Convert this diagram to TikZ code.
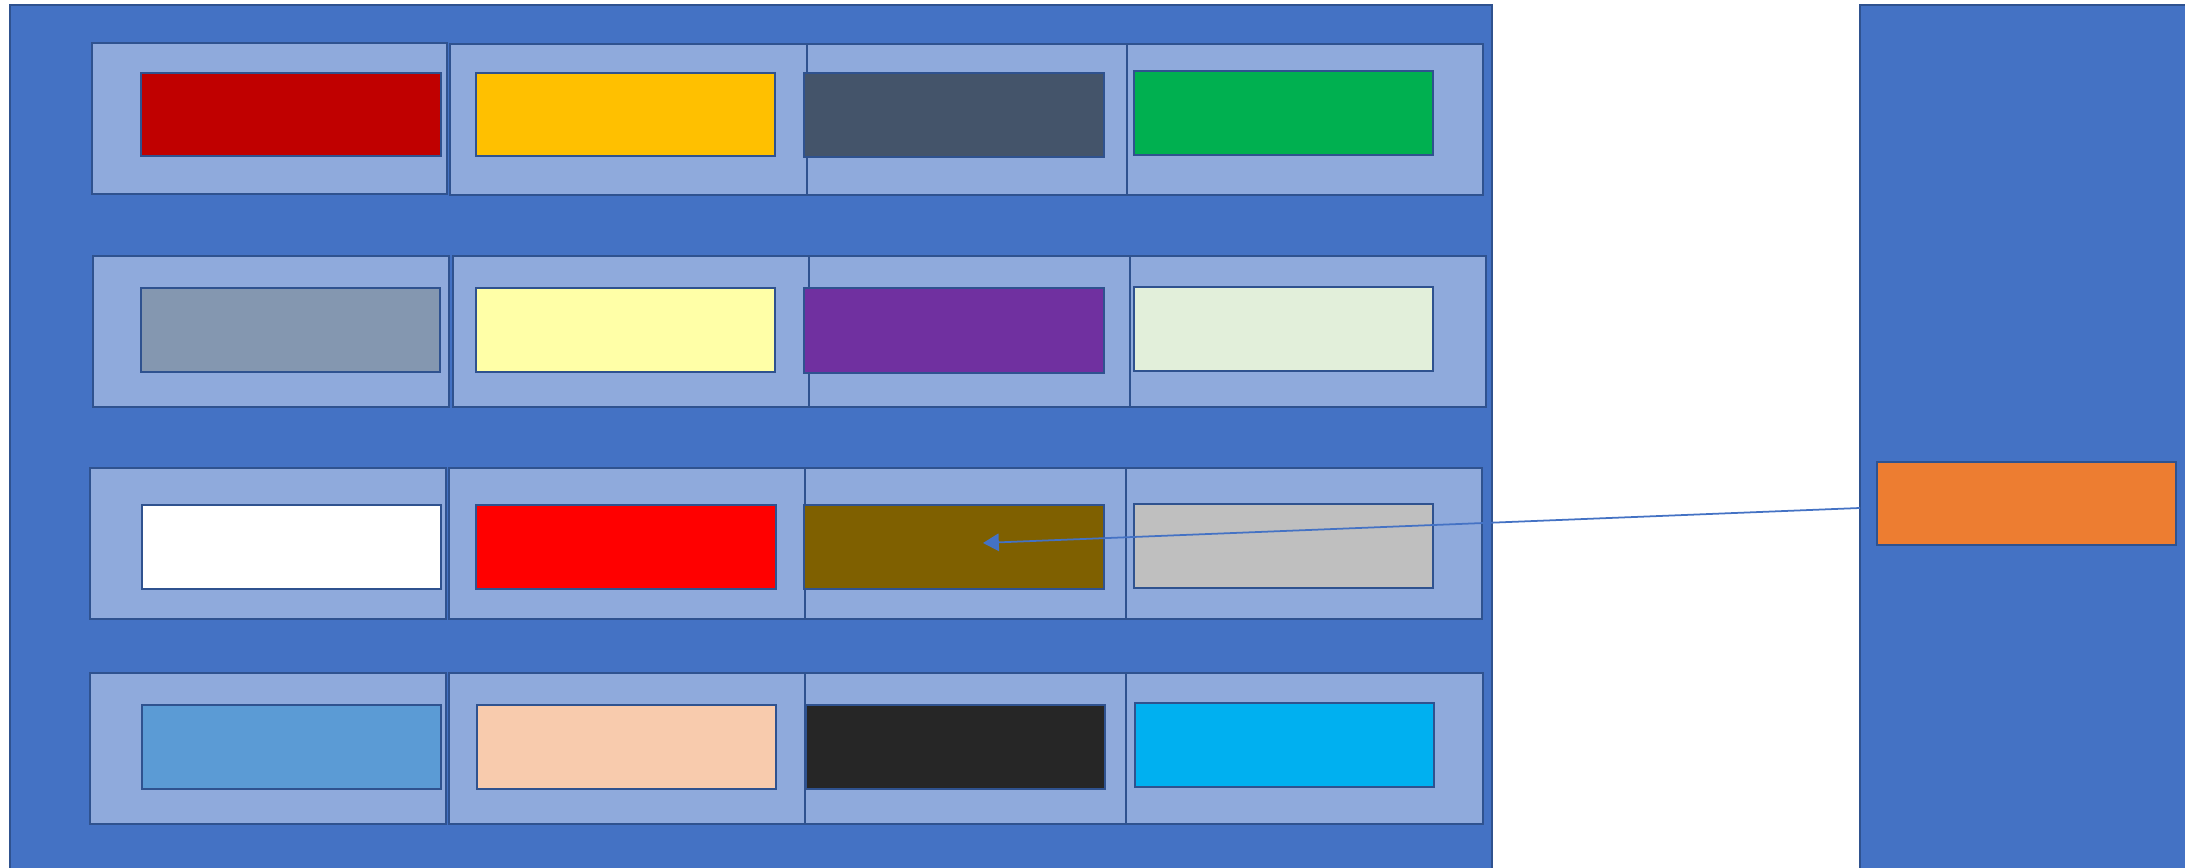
\documentclass[tikz,border=0pt]{standalone}
\usetikzlibrary{fit,arrows.meta}
\definecolor{bigblue}{HTML}{4472C4}
\definecolor{panelc}{HTML}{8FAADC}
\definecolor{edgec}{HTML}{2F528F}
\definecolor{cA}{HTML}{C00000}
\definecolor{cB}{HTML}{FFC000}
\definecolor{cC}{HTML}{44546A}
\definecolor{cD}{HTML}{00B050}
\definecolor{cE}{HTML}{8497B0}
\definecolor{cF}{HTML}{FFFFA7}
\definecolor{cG}{HTML}{7030A0}
\definecolor{cH}{HTML}{E2EFDA}
\definecolor{cI}{HTML}{FFFFFF}
\definecolor{cJ}{HTML}{FF0000}
\definecolor{cK}{HTML}{7F6000}
\definecolor{cL}{HTML}{BFBFBF}
\definecolor{cM}{HTML}{5B9BD5}
\definecolor{cN}{HTML}{F8CBAD}
\definecolor{cO}{HTML}{262626}
\definecolor{cP}{HTML}{00B0F0}
\definecolor{cQ}{HTML}{ED7D31}
\begin{document}
\begin{tikzpicture}[x=0.01cm,y=-0.01cm,
  box/.style={draw=edgec,line width=0.75pt,inner sep=0pt,outer sep=0pt,rectangle},
  bigbox/.style={box,fill=bigblue},
  panel/.style={box,fill=panelc},
  swatch/.style={box}]
\useasboundingbox (0,0) rectangle (2185,868);
\clip (0,0) rectangle (2185,868);
\fill[white] (0,0) rectangle (2185,868);
% big containers
\node[bigbox,fit={(10,5)(1492,880)}] (left) {};
\node[bigbox,fit={(1860,5)(2200,880)}] (right) {};
% panels row 1
\node[panel,fit={(92,43)(447,194)}] (p11) {};
\node[panel,fit={(450,44)(807,195)}] (p12) {};
\node[panel,fit={(807,44)(1127,195)}] (p13) {};
\node[panel,fit={(1127,44)(1483,195)}] (p14) {};
% row 2
\node[panel,fit={(93,256)(449,407)}] (p21) {};
\node[panel,fit={(453,256)(809,407)}] (p22) {};
\node[panel,fit={(809,256)(1130,407)}] (p23) {};
\node[panel,fit={(1130,256)(1486,407)}] (p24) {};
% row 3
\node[panel,fit={(90,468)(446,619)}] (p31) {};
\node[panel,fit={(449,468)(805,619)}] (p32) {};
\node[panel,fit={(805,468)(1126,619)}] (p33) {};
\node[panel,fit={(1126,468)(1482,619)}] (p34) {};
% row 4
\node[panel,fit={(90,673)(446,824)}] (p41) {};
\node[panel,fit={(449,673)(805,824)}] (p42) {};
\node[panel,fit={(805,673)(1126,824)}] (p43) {};
\node[panel,fit={(1126,673)(1483,824)}] (p44) {};
% swatches row 1
\node[swatch,fill=cA,fit={(141,73)(441,156)}] (s11) {};
\node[swatch,fill=cB,fit={(476,73)(775,156)}] (s12) {};
\node[swatch,fill=cC,fit={(804,73)(1104,157)}] (s13) {};
\node[swatch,fill=cD,fit={(1134,71)(1433,155)}] (s14) {};
% row 2
\node[swatch,fill=cE,fit={(141,288)(440,372)}] (s21) {};
\node[swatch,fill=cF,fit={(476,288)(775,372)}] (s22) {};
\node[swatch,fill=cG,fit={(804,288)(1104,373)}] (s23) {};
\node[swatch,fill=cH,fit={(1134,287)(1433,371)}] (s24) {};
% row 3
\node[swatch,fill=cI,fit={(142,505)(441,589)}] (s31) {};
\node[swatch,fill=cJ,fit={(476,505)(776,589)}] (s32) {};
\node[swatch,fill=cK,fit={(804,505)(1104,589)}] (s33) {};
\node[swatch,fill=cL,fit={(1134,504)(1433,588)}] (s34) {};
% row 4
\node[swatch,fill=cM,fit={(142,705)(441,789)}] (s41) {};
\node[swatch,fill=cN,fit={(477,705)(776,789)}] (s42) {};
\node[swatch,fill=cO,fit={(806,705)(1105,789)}] (s43) {};
\node[swatch,fill=cP,fit={(1135,703)(1434,787)}] (s44) {};
% orange
\node[swatch,fill=cQ,fit={(1877,462)(2176,545)}] (orng) {};
% connector
\coordinate (src) at (right.west |- 0,508);
\coordinate (tip) at (983,543);
\draw[bigblue,line width=0.5pt,-{Triangle[length=4.5pt,width=5pt]}] (src) -- (tip);
\end{tikzpicture}
\end{document}
